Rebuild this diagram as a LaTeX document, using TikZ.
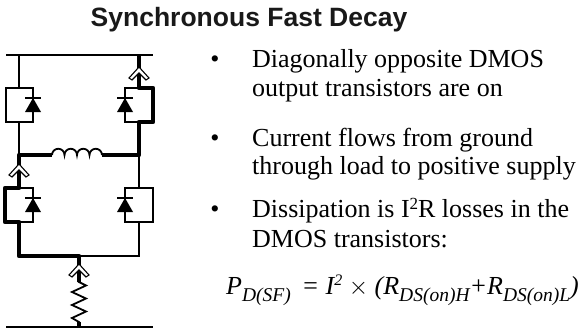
\documentclass[tikz,border=0pt]{standalone}
\usepackage{fontspec}
\setmainfont{Liberation Serif}
\newfontfamily\titlefont{Liberation Sans}
\newcommand\lowsub[1]{\raisebox{-7pt}{\fontsize{19.5}{20}\selectfont #1}}
\newcommand\hisup[1]{\raisebox{9pt}{\fontsize{16}{16}\selectfont #1}}
\begin{document}
\begin{tikzpicture}[x=1pt,y=-1pt,
  wire/.style={line width=1.8pt, line cap=rect},
  hot/.style={line width=4.6pt, line join=round},
  txt/.style={inner sep=0pt, anchor=base west, font=\fontsize{26}{28}\selectfont, text=black},
  bul/.style={inner sep=0pt, anchor=base, font=\fontsize{26}{28}\selectfont, text=black},
  chev/.pic={\filldraw[fill=white, draw=black, line width=1.1pt, line join=miter]
     (0,-7) -- (10,4) -- (7,6) -- (0,-1) -- (-7,6) -- (-10,4) -- cycle;},
  diode/.pic={\draw[line width=1.6pt] (-8,-7) -- (8,-7);
     \fill (-8,7) -- (8,7) -- (0,-7) -- cycle;}
]
\useasboundingbox (0,0) rectangle (584,329);

% ---------- coordinates ----------
\coordinate (tl) at (7,55);   \coordinate (tr) at (152,55);
\coordinate (bl) at (7,327);  \coordinate (br) at (152,327);
\coordinate (l0) at (19,55);  \coordinate (r0) at (139,55);
\coordinate (lht) at (19,88); \coordinate (lhb) at (19,122);
\coordinate (rht) at (139,88); \coordinate (rhb) at (139,122);
\coordinate (lm) at (19,155); \coordinate (rm) at (139,155);
\coordinate (ind1) at (52,155); \coordinate (ind2) at (102,155);
\coordinate (llt) at (19,188); \coordinate (llb) at (19,222);
\coordinate (rlt) at (139,188); \coordinate (rlb) at (139,222);
\coordinate (lb) at (19,256); \coordinate (mb) at (79,256); \coordinate (rb) at (139,256);
\coordinate (res1) at (79,282); \coordinate (res2) at (79,322); \coordinate (gnd) at (79,327);

% ---------- rails ----------
\draw[wire] (tl) -- (tr);
\draw[wire] (bl) -- (br);

% ---------- thin wires ----------
\draw[wire] (l0) -- (lht);
\draw[wire] (lhb) -- (lm);
\draw[wire] (rm) -- (rlt);
\draw[wire] (rlb) -- (rb) -- (mb);
\draw[wire, line cap=butt] (lht) -- (6,88) -- (6,122) -- (33,122) -- (33,88) -- (lht);
\draw[wire, line cap=butt] (rht) -- (125,88) -- (125,122) -- (rhb);
\draw[wire, line cap=butt] (llt) -- (33,188) -- (33,222) -- (llb);
\draw[wire, line cap=butt] (rlt) -- (125,188) -- (125,222) -- (153,222) -- (153,188) -- (rlt);

% inductor
\draw[wire, line cap=butt] (ind1)
  arc[start angle=180, end angle=360, radius=6.25]
  arc[start angle=180, end angle=360, radius=6.25]
  arc[start angle=180, end angle=360, radius=6.25]
  arc[start angle=180, end angle=360, radius=6.25];

% resistor
\draw[wire, line join=miter] (res1) -- (86,285.5) -- (72,292) -- (86,298.5) -- (72,305) -- (86,311.5) -- (72,318) -- (res2);

% ---------- current path (thick) ----------
\draw[hot] (gnd) -- (res2);
\draw[hot] (res1) -- (mb) -- (lb) -- (llb) -- (5,222) -- (5,188) -- (llt) -- (lm) -- (ind1);
\draw[hot] (ind2) -- (rm) -- (rhb) -- (153,122) -- (153,88) -- (rht) -- (r0);

% ---------- diodes ----------
\pic at (33,105) {diode};
\pic at (125,105) {diode};
\pic at (33,205) {diode};
\pic at (125,205) {diode};

% ---------- current arrows ----------
\pic at (139,74) {chev};
\pic at (19,171) {chev};
\pic at (79,271) {chev};

% ---------- text ----------
\node[inner sep=0pt, anchor=base, font=\titlefont\bfseries\fontsize{26.5}{28}\selectfont, text=black!90] (title) at (249,27) {Synchronous Fast Decay};

\node[bul] (d1) at (215,68) {\textbullet};
\node[txt] (t1a) at (252,68) {Diagonally opposite DMOS};
\node[txt] (t1b) at (252,96) {output transistors are on};

\node[bul] (d2) at (215,146) {\textbullet};
\node[txt] (t2a) at (252,146) {Current flows from ground};
\node[txt] (t2b) at (252,174) {through load to positive supply};

\node[bul] (d3) at (215,217) {\textbullet};
\node[txt] (t3a) at (252,217) {Dissipation is I\raisebox{8pt}{\fontsize{17}{17}\selectfont 2}R losses in the};
\node[txt] (t3b) at (252,247) {DMOS transistors:};

\node[txt] (eq) at (226,294) {\itshape P\lowsub{D(SF)}\, = I\hisup{2} $\times$ (R\lowsub{DS(on)H}+R\lowsub{DS(on)L})};
\end{tikzpicture}
\end{document}
